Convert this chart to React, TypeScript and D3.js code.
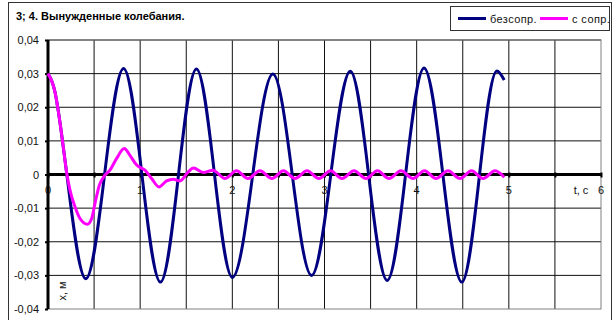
import { useEffect, useRef } from "react";
import * as d3 from "d3";

const TITLE = "3; 4. Вынужденные колебания.";
const X_LABEL = "t, c";
const Y_LABEL = "x, м";
const SERIES_NAMES = ["безсопр.", "с сопр."];
const SERIES_COLORS = ["#000080", "#ff00ff"];

const xTicks = [0, 1, 2, 3, 4, 5, 6];
const yTicks = [-0.04, -0.03, -0.02, -0.01, 0, 0.01, 0.02, 0.03, 0.04];

// без сопротивления (start hidden under the other curve, then extrema)
const freeT = [0, 0.076, 0.112, 0.137, 0.166, 0.41, 0.82, 1.22, 1.61, 2.0, 2.44, 2.86, 3.28, 3.68, 4.08, 4.49, 4.87, 4.95];
const freeX = [0.03, 0.0245, 0.0188, 0.0141, 0.0081, -0.031, 0.0315, -0.032, 0.0314, -0.0306, 0.0299, -0.030, 0.0307, -0.0315, 0.0317, -0.032, 0.0308, 0.0281];

// с сопротивлением
const dampT = [
  0, 0.076, 0.112, 0.137, 0.166, 0.202, 0.239, 0.293, 0.347, 0.427, 0.474, 0.51, 0.557, 0.618,
  0.672, 0.745, 0.828, 0.889, 0.962, 1.052, 1.124, 1.204, 1.287, 1.359, 1.432, 1.522, 1.577,
  1.685, 1.79, 1.92, 2.045, 2.17, 2.3, 2.43, 2.555, 2.68, 2.81, 2.94, 3.065, 3.19, 3.32, 3.45,
  3.575, 3.7, 3.83, 3.96, 4.085, 4.21, 4.34, 4.47, 4.595, 4.72, 4.85, 4.95,
];
const dampX = [
  0.03, 0.0245, 0.0188, 0.0141, 0.0081, 0.0006, -0.0047, -0.0096, -0.0131, -0.0148, -0.0131,
  -0.0086, -0.0032, -0.0002, 0.0013, 0.0048, 0.0077, 0.0057, 0.0028, 0.0013, -0.0012, -0.0037,
  -0.0019, -0.0014, -0.0019, 0.0008, 0.0019, 0.0006, 0.0013, -0.0012, 0.0011, -0.0012, 0.0011,
  -0.0012, 0.0011, -0.0012, 0.0011, -0.0012, 0.0011, -0.0012, 0.0011, -0.0012, 0.0011, -0.0012,
  0.0011, -0.0012, 0.0011, -0.0012, 0.0011, -0.0012, 0.0011, -0.0012, 0.0011, -0.0008,
];

const FONT = "'Liberation Sans', Arial, sans-serif";

export default function App() {
  const svgRef = useRef<SVGSVGElement>(null);

  useEffect(() => {
    const el = svgRef.current;
    if (!el) return;
    const svg = d3.select(el);
    svg.selectAll("*").remove();

    const x = d3.scaleLinear().domain([0, 6]).range([48, 601]);
    const y = d3.scaleLinear().domain([-0.04, 0.04]).range([309, 40]);

    // chart frame
    svg
      .append("rect")
      .attr("x", 8.5)
      .attr("y", 2.5)
      .attr("width", 603)
      .attr("height", 330)
      .attr("fill", "#fff")
      .attr("stroke", "#333");

    svg
      .append("text")
      .attr("x", 16)
      .attr("y", 20)
      .attr("font-family", FONT)
      .attr("font-size", 11)
      .attr("font-weight", "bold")
      .text(TITLE);

    // grid
    const grid = svg.append("g").attr("stroke", "#111").attr("stroke-width", 1);
    grid
      .selectAll("line.v")
      .data(x.ticks(12).slice(1, -1))
      .enter()
      .append("line")
      .attr("x1", (d) => x(d))
      .attr("x2", (d) => x(d))
      .attr("y1", y(0.04))
      .attr("y2", y(-0.04));
    grid
      .selectAll("line.h")
      .data(yTicks.slice(1))
      .enter()
      .append("line")
      .attr("x1", x(0))
      .attr("x2", x(6))
      .attr("y1", (d) => y(d))
      .attr("y2", (d) => y(d));

    svg
      .append("rect")
      .attr("x", x(0))
      .attr("y", y(0.04))
      .attr("width", x(6) - x(0))
      .attr("height", y(-0.04) - y(0.04))
      .attr("fill", "none")
      .attr("stroke", "#808080");

    // axes
    const yAxis = d3.axisLeft(y).tickValues(yTicks).tickSize(3).tickFormat(() => "");
    const ga = svg.append("g").attr("transform", `translate(${x(0)},0)`).call(yAxis);
    ga.select(".domain").attr("stroke-width", 3).attr("d", `M0,${y(0.04)}V${y(-0.04)}`);
    ga.selectAll(".tick line").attr("stroke-width", 2);

    const xAxis = d3.axisBottom(x).tickValues(x.ticks(12)).tickSize(3).tickFormat(() => "");
    const gx = svg.append("g").attr("transform", `translate(0,${y(0)})`).call(xAxis);
    gx.select(".domain").attr("stroke-width", 3).attr("d", `M${x(0)},0H${x(6)}`);
    gx.selectAll(".tick line").attr("stroke-width", 2).attr("y1", -2);

    // tick labels
    svg
      .append("g")
      .attr("font-family", FONT)
      .attr("font-size", 11)
      .attr("fill", "#111")
      .attr("text-anchor", "end")
      .selectAll("text")
      .data(yTicks)
      .enter()
      .append("text")
      .attr("x", 39)
      .attr("y", (d) => y(d) + 4)
      .text((d) => (d === 0 ? "0" : d.toFixed(2).replace(".", ",")));

    svg
      .append("g")
      .attr("font-family", FONT)
      .attr("font-size", 11)
      .attr("fill", "#111")
      .attr("text-anchor", "middle")
      .selectAll("text")
      .data(xTicks)
      .enter()
      .append("text")
      .attr("x", (d) => x(d))
      .attr("y", y(0) + 19)
      .text((d) => String(d));

    svg
      .append("text")
      .attr("x", 581)
      .attr("y", y(0) + 19)
      .attr("text-anchor", "middle")
      .attr("font-family", FONT)
      .attr("font-size", 11)
      .attr("fill", "#111")
      .text(X_LABEL);

    svg
      .append("text")
      .attr("transform", `translate(66,291) rotate(-90)`)
      .attr("text-anchor", "middle")
      .attr("font-family", FONT)
      .attr("font-size", 11)
      .attr("fill", "#111")
      .text(Y_LABEL);

    // curves
    const line = d3
      .line<[number, number]>()
      .x((d) => x(d[0]))
      .y((d) => y(d[1]))
      .curve(d3.curveMonotoneX);

    const series = [
      freeT.map((t, i) => [t, freeX[i]] as [number, number]),
      dampT.map((t, i) => [t, dampX[i]] as [number, number]),
    ];
    series.forEach((pts, i) => {
      svg
        .append("path")
        .attr("d", line(pts))
        .attr("fill", "none")
        .attr("stroke", SERIES_COLORS[i])
        .attr("stroke-width", 3)
        .attr("stroke-linejoin", "round");
    });

    // legend
    const lg = svg.append("g");
    lg.append("rect")
      .attr("x", 450.5)
      .attr("y", 6.5)
      .attr("width", 159)
      .attr("height", 24)
      .attr("fill", "#fff")
      .attr("stroke", "#333");
    const legendX = [458, 540];
    SERIES_NAMES.forEach((name, i) => {
      lg.append("line")
        .attr("x1", legendX[i])
        .attr("x2", legendX[i] + 28)
        .attr("y1", 18.5)
        .attr("y2", 18.5)
        .attr("stroke", SERIES_COLORS[i])
        .attr("stroke-width", 3);
      lg.append("text")
        .attr("x", legendX[i] + 32)
        .attr("y", 22.5)
        .attr("font-family", FONT)
        .attr("font-size", 11)
        .attr("fill", "#111")
        .attr("letter-spacing", 0.4)
        .text(name);
    });
  }, []);

  return (
    <svg
      ref={svgRef}
      width={614}
      height={320}
      style={{ position: "absolute", left: 0, top: 0, background: "#fff" }}
    />
  );
}
